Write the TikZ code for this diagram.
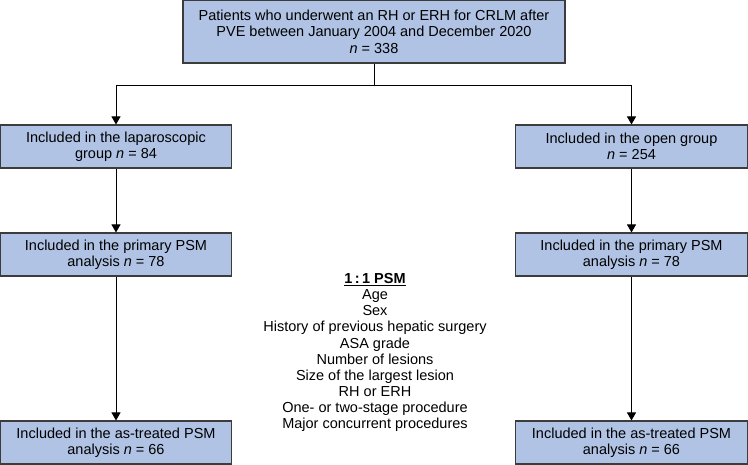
\documentclass[tikz,border=0pt]{standalone}
\usepackage{fontspec}
\setmainfont{Liberation Sans}
\usetikzlibrary{arrows.meta}
\definecolor{boxfill}{RGB}{176,195,228}
\definecolor{boxline}{RGB}{60,60,60}
\begin{document}
\begin{tikzpicture}[x=1pt,y=-1pt,
  box/.style={draw=boxline,line width=1.1pt,fill=boxfill,align=center,inner sep=0pt,
    font=\fontsize{14.5}{16.5}\selectfont},
  arr/.style={line width=0.9pt,-{Triangle[length=8pt,width=9pt]}},
  ln/.style={line width=0.9pt}]
\useasboundingbox (0,0) rectangle (748,464);
\node[box,minimum width=382pt,minimum height=63pt] (top) at (374,31.5)
  {Patients who underwent an RH or ERH for CRLM after\\PVE between January 2004 and December 2020\\\textit{n} = 338};
\node[box,minimum width=231pt,minimum height=43pt] (l1) at (116,146.5)
  {Included in the laparoscopic\\group \textit{n} = 84};
\node[box,minimum width=231pt,minimum height=43pt] (l2) at (116,254.5)
  {Included in the primary PSM\\analysis \textit{n} = 78};
\node[box,minimum width=231pt,minimum height=43pt] (l3) at (116,442.5)
  {Included in the as-treated PSM\\analysis \textit{n} = 66};
\node[box,minimum width=232pt,minimum height=43pt] (r1) at (631.5,146.5)
  {Included in the open group\\\textit{n} = 254};
\node[box,minimum width=232pt,minimum height=43pt] (r2) at (631.5,254.5)
  {Included in the primary PSM\\analysis \textit{n} = 78};
\node[box,minimum width=232pt,minimum height=43pt] (r3) at (631.5,442.5)
  {Included in the as-treated PSM\\analysis \textit{n} = 66};
\node[align=center,inner sep=0pt,font=\fontsize{14.5}{16.1}\selectfont] (psm) at (375,352.5)
  {\underline{\textbf{1\,:\,1 PSM}}\\Age\\Sex\\History of previous hepatic surgery\\ASA grade\\Number of lesions\\Size of the largest lesion\\RH or ERH\\One- or two-stage procedure\\Major concurrent procedures};
\coordinate (j) at (374,85);
\draw[ln] (top.south) -- (j);
\draw[arr] (j) -| (l1.north);
\draw[arr] (j) -| (r1.north);
\draw[arr] (l1) -- (l2);
\draw[arr] (l2) -- (l3);
\draw[arr] (r1) -- (r2);
\draw[arr] (r2) -- (r3);
\end{tikzpicture}
\end{document}
